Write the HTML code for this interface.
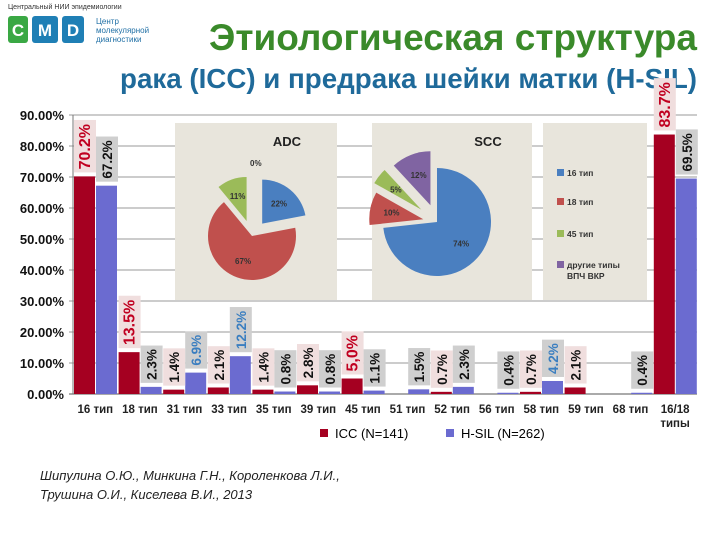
<!DOCTYPE html>
<html><head><meta charset="utf-8"><style>
body{margin:0;background:#fff;width:720px;height:540px;overflow:hidden;font-family:"Liberation Sans",sans-serif}
svg{display:block}
</style></head><body>
<svg width="720" height="540" viewBox="0 0 720 540" xmlns="http://www.w3.org/2000/svg">
<g>
<text x="8" y="9" font-size="7" fill="#333">Центральный НИИ эпидемиологии</text>
<rect x="8" y="16" width="20" height="27" rx="3" fill="#3aa844"/>
<text x="18" y="36" font-size="17" font-weight="bold" fill="#fff" text-anchor="middle">C</text>
<rect x="32" y="16" width="26" height="27" rx="3" fill="#1f7fb5"/>
<text x="45" y="36" font-size="17" font-weight="bold" fill="#fff" text-anchor="middle">M</text>
<rect x="62" y="16" width="22" height="27" rx="3" fill="#1f7fb5"/>
<text x="73" y="36" font-size="17" font-weight="bold" fill="#fff" text-anchor="middle">D</text>
<text x="96" y="24" font-size="8" fill="#1f6fa5">Центр</text>
<text x="96" y="33" font-size="8" fill="#1f6fa5">молекулярной</text>
<text x="96" y="42" font-size="8" fill="#1f6fa5">диагностики</text>
</g>
<text x="697" y="50" font-size="37" font-weight="bold" fill="#3a8a2a" text-anchor="end">Этиологическая структура</text>
<text x="697" y="88" font-size="28" font-weight="bold" fill="#1f6a9a" text-anchor="end" textLength="577" lengthAdjust="spacingAndGlyphs">рака (ICC) и предрака шейки матки (H-SIL)</text>
<g id="grid"></g>
<g id="panels">
<rect x="175" y="123" width="162" height="177" fill="#e8e5dc"/>
<text x="287" y="146" font-size="13" font-weight="bold" fill="#222" text-anchor="middle">ADC</text>
<rect x="372" y="123" width="160" height="177" fill="#e8e5dc"/>
<text x="488" y="146" font-size="13" font-weight="bold" fill="#222" text-anchor="middle">SCC</text>
<rect x="543" y="123" width="104" height="177" fill="#e8e5dc"/>
<g font-size="8.5" font-weight="bold" fill="#333">
<rect x="557" y="169" width="7" height="7" fill="#4a7fc0"/><text x="567" y="176">16 тип</text>
<rect x="557" y="198" width="7" height="7" fill="#c0504d"/><text x="567" y="205">18 тип</text>
<rect x="557" y="230" width="7" height="7" fill="#9bbb59"/><text x="567" y="237">45 тип</text>
<rect x="557" y="261" width="7" height="7" fill="#8064a2"/><text x="567" y="268">другие типы</text><text x="567" y="279">ВПЧ ВКР</text>
</g>
<g id="pies"></g>
</g>
<g id="bars"></g>
<g>
<rect x="320" y="429" width="8" height="8" fill="#a50021"/>
<text x="335" y="438" font-size="13" fill="#000">ICC (N=141)</text>
<rect x="446" y="429" width="8" height="8" fill="#6b6bd0"/>
<text x="461" y="438" font-size="13" fill="#000">H-SIL (N=262)</text>
</g>
<g font-size="13" font-style="italic" fill="#222">
<text x="40" y="480">Шипулина О.Ю., Минкина Г.Н., Короленкова Л.И.,</text>
<text x="40" y="499">Трушина О.И., Киселева В.И., 2013</text>
</g>
</svg>
<script>
const categories=["16 тип","18 тип","31 тип","33 тип","35 тип","39 тип","45 тип","51 тип","52 тип","56 тип","58 тип","59 тип","68 тип","16/18"];
const iccValues=[70.2,13.5,1.4,2.1,1.4,2.8,5.0,0,0.7,0,0.7,2.1,0,83.7];
const hsilValues=[67.2,2.3,6.9,12.2,0.8,0.8,1.1,1.5,2.3,0.4,4.2,0,0.4,69.5];
const iccLabels=["70.2%","13.5%","1.4%","2.1%","1.4%","2.8%","5,0%","","0.7%","","0.7%","2.1%","","83.7%"];
const hsilLabels=["67.2%","2.3%","6.9%","12.2%","0.8%","0.8%","1.1%","1.5%","2.3%","0.4%","4.2%","","0.4%","69.5%"];
const yTicks=[0,10,20,30,40,50,60,70,80,90];
const adcValues=[22,67,11,0];
const sccValues=[74,10,5,12];
const pieLabels=["16 тип","18 тип","45 тип","другие типы"];
const NS="http://www.w3.org/2000/svg";
const X0=73,BAND=44.6,Y0=394,PX=3.1;
const y=v=>Y0-v*PX;
const bx=i=>X0+i*BAND;
function mk(t,a,p){const e=document.createElementNS(NS,t);for(const k in a)e.setAttribute(k,a[k]);p.appendChild(e);return e;}
const grid=document.getElementById('grid');
yTicks.forEach(t=>{
 const l=mk('line',{x1:69,x2:697,y1:y(t),y2:y(t),stroke:t?'#999':'#555','stroke-width':1},grid);
 
 
 const tx=mk('text',{x:64,y:y(t)+5,'font-size':13,'font-weight':'bold','text-anchor':'end',fill:'#111'},grid);
 tx.textContent=t.toFixed(2)+'%';
 
 
});
mk('line',{x1:73,x2:73,y1:y(90),y2:Y0,stroke:'#777'},grid);
const bars=document.getElementById('bars');
const redBig=[0,1,6,13],blueLbl=[2,3,10];
function label(txt,cx,top,isIcc,big,blue){
 if(!txt)return;
 const fs=big?16:13.5;
 const len=txt.length*fs*0.58+6;
 const r=mk('rect',{x:cx-11,y:top-4-len,width:22,height:len,fill:isIcc?'#f0dede':'#cfcfcf'},bars);
 
 
 const t=mk('text',{x:0,y:0,'font-size':fs,'font-weight':'bold',fill:big?'#c00020':(blue?'#3a7ec0':'#111'),transform:`translate(${cx+5},${top-7}) rotate(-90)`},bars);
 t.textContent=txt;
 
 
}
categories.forEach((c,i)=>{
 const x=bx(i);
 const a=mk('rect',{x:x+1,y:y(iccValues[i]),width:21,height:iccValues[i]*PX,fill:'#a50021'},bars);
 
 
 const b=mk('rect',{x:x+23,y:y(hsilValues[i]),width:21,height:hsilValues[i]*PX,fill:'#6b6bd0'},bars);
 
 
 label(iccLabels[i],x+12,y(iccValues[i]),true,redBig.includes(i),false);
 label(hsilLabels[i],x+34,y(hsilValues[i]),false,false,blueLbl.includes(i));
 const lines=c==="16/18"?["16/18","типы"]:[c];
 lines.forEach((s,k)=>{
  const t=mk('text',{x:x+BAND/2,y:413+k*14,'font-size':11.5,'font-weight':'bold','text-anchor':'middle',fill:'#222'},bars);
  t.textContent=s;
  
  
 });
});
const colors=["#4a7fc0","#c0504d","#9bbb59","#8064a2"];
const pies=document.getElementById('pies');
function pie(vals,cx,cy,r,explode,name){
 const tot=vals.reduce((s,v)=>s+v,0);let a=-Math.PI/2;
 vals.forEach((v,i)=>{
  const da=v/tot*2*Math.PI;
  if(v>0){
   const m=a+da/2,ox=cx+Math.cos(m)*explode[i],oy=cy+Math.sin(m)*explode[i];
   const x1=ox+r*Math.cos(a),y1=oy+r*Math.sin(a),x2=ox+r*Math.cos(a+da),y2=oy+r*Math.sin(a+da);
   const p=mk('path',{d:`M${ox},${oy}L${x1},${y1}A${r},${r} 0 ${da>Math.PI?1:0} 1 ${x2},${y2}Z`,fill:colors[i]},pies);
   
   
   const t=mk('text',{x:ox+Math.cos(m)*r*0.6,y:oy+Math.sin(m)*r*0.6+3,'font-size':8,'font-weight':'bold','text-anchor':'middle',fill:'#333'},pies);
   t.textContent=v+'%';
   
   
  }
  a+=da;
 });
}
pie(adcValues,252,236,44,[16,0,16,0],'adc-pie');
pie(sccValues,437,222,54,[0,14,20,18],'scc-pie');
const z=mk('text',{x:250,y:166,'font-size':8,'font-weight':'bold',fill:'#333'},pies);z.textContent='0%';


</script>
</body></html>
